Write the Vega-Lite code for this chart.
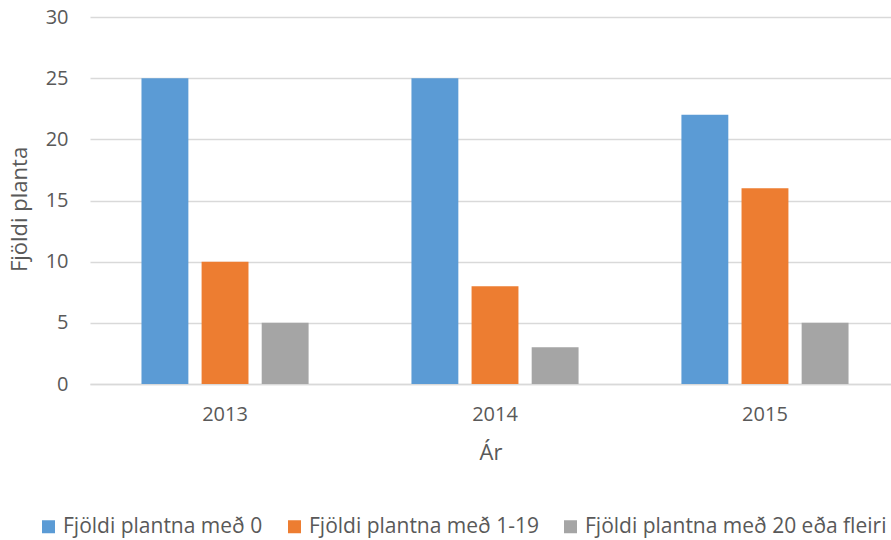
{
  "$schema": "https://vega.github.io/schema/vega-lite/v6.json",
  "width": 801,
  "height": 367,
  "autosize": {"type": "none"},
  "padding": {"left": 90, "top": 17, "right": 0, "bottom": 156},
  "background": "white",
  "config": {
    "view": {"stroke": null},
    "font": "Open Sans",
    "axis": {"labelColor": "#595959", "titleColor": "#595959", "labelFont": "Open Sans", "titleFont": "Open Sans", "titleFontWeight": "normal"}
  },
  "data": {
    "values": [
      {"year": "2013", "series": "Fjöldi plantna með 0", "value": 25},
      {"year": "2013", "series": "Fjöldi plantna með 1-19", "value": 10},
      {"year": "2013", "series": "Fjöldi plantna með 20 eða fleiri", "value": 5},
      {"year": "2014", "series": "Fjöldi plantna með 0", "value": 25},
      {"year": "2014", "series": "Fjöldi plantna með 1-19", "value": 8},
      {"year": "2014", "series": "Fjöldi plantna með 20 eða fleiri", "value": 3},
      {"year": "2015", "series": "Fjöldi plantna með 0", "value": 22},
      {"year": "2015", "series": "Fjöldi plantna með 1-19", "value": 16},
      {"year": "2015", "series": "Fjöldi plantna með 20 eða fleiri", "value": 5}
    ]
  },
  "mark": {"type": "bar"},
  "encoding": {
    "x": {
      "field": "year", "type": "nominal", "title": "Ár",
      "scale": {"paddingInner": 0.381, "paddingOuter": 0.174, "align": 0.548},
      "axis": {"labelAngle": 0, "labelFontSize": 20, "titleFontSize": 22, "ticks": false, "domain": true, "domainColor": "#D9D9D9", "domainWidth": 1.5, "labelPadding": 20, "titlePadding": 18, "grid": false}
    },
    "xOffset": {"field": "series", "type": "nominal", "scale": {"paddingInner": 0.22, "paddingOuter": 0}},
    "y": {
      "field": "value", "type": "quantitative", "title": "Fjöldi planta",
      "scale": {"domain": [0, 30]},
      "axis": {"values": [0, 5, 10, 15, 20, 25, 30], "labelFontSize": 20, "titleFontSize": 22, "ticks": false, "domain": false, "gridColor": "#D9D9D9", "gridWidth": 1.5, "labelPadding": 22, "titlePadding": 14, "titleY": 192}
    },
    "color": {
      "field": "series", "type": "nominal",
      "scale": {"range": ["#5B9BD5", "#ED7D31", "#A5A5A5"]},
      "legend": {"title": null, "orient": "none", "direction": "horizontal", "legendX": -52, "legendY": 499, "symbolType": "square", "symbolSize": 169, "symbolStrokeWidth": 0, "labelFontSize": 21, "labelLimit": 400, "labelColor": "#595959", "labelFont": "Open Sans", "columnPadding": 21, "symbolOffset": 0, "labelOffset": 4}
    }
  }
}
